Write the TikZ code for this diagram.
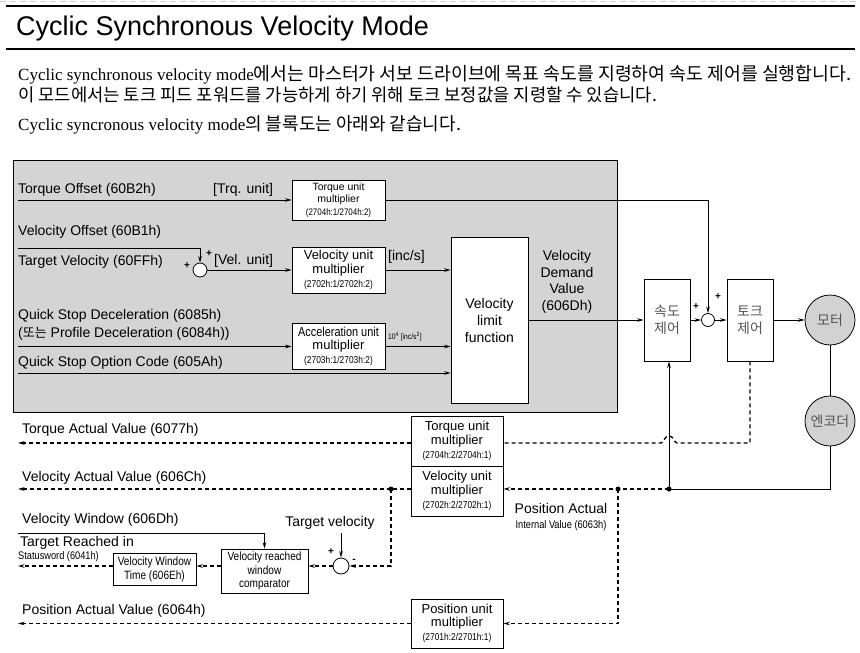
\documentclass[tikz,border=0pt]{standalone}
\usepackage{fontspec}
\setmainfont{Liberation Serif}
\newfontfamily\kr{Noto Sans CJK KR}
\newfontfamily\ar{Liberation Sans}
\newfontfamily\arn[FakeStretch=0.84]{Liberation Sans}
\usetikzlibrary{arrows.meta,calc}
\newcommand\fsz[2]{\fontsize{#1}{#2}\selectfont}
\definecolor{gbg}{HTML}{D4D4D4}
\definecolor{mfill}{HTML}{D2D2D2}
\definecolor{krgray}{HTML}{555555}
\tikzset{
 box/.style={draw, line width=0.8pt, fill=white, inner sep=0pt, align=center},
 lbl/.style={inner sep=0pt, anchor=west, font=\ar\fsz{14}{16}},
 arr/.style={-{Stealth[length=6.5pt,width=3.6pt]}},
 dsh/.style={line width=1.3pt, dash pattern=on 4pt off 3pt},
 ln/.style={line width=0.8pt},
 sumc/.style={draw, circle, fill=white, minimum size=14pt, inner sep=0pt, line width=0.8pt},
 jdot/.style={circle, fill=black, minimum size=5pt, inner sep=0pt},
 sgn/.style={inner sep=0pt, font=\ar\bfseries\fsz{10}{11}},
 bigc/.style={draw, circle, fill=mfill, minimum size=50pt, inner sep=0pt, line width=0.8pt, font=\kr\fsz{14}{16}, text=krgray},
 krbox/.style={box, minimum width=46pt, minimum height=82pt, font=\kr\fsz{14}{17}, text=krgray},
}
\begin{document}
\begin{tikzpicture}[x=1pt,y=-1pt]
\useasboundingbox (0,0) rectangle (860,653);
% header
\draw[gray!40, line width=0.6pt, dash pattern=on 6pt off 4pt] (0,1.5) -- (860,1.5);
\coordinate (h1a) at (6,6); \coordinate (h1b) at (855,6);
\coordinate (h2a) at (6,49); \coordinate (h2b) at (855,49);
\draw[line width=2.5pt] (h1a) -- (h1b);
\draw[line width=2.5pt] (h2a) -- (h2b);
\node[anchor=base west, inner sep=0] (title) at (16,35) {\ar\fsz{27}{32}Cyclic Synchronous Velocity Mode};
\node[anchor=base west, inner sep=0] (p1) at (18,80) {\fsz{17}{20}Cyclic synchronous velocity mode{\kr\fsz{18.3}{20}에서는 마스터가 서보 드라이브에 목표 속도를 지령하여 속도 제어를 실행합니다.}};
\node[anchor=base west, inner sep=0] (p2) at (18,101) {\kr\fsz{17.7}{20}이 모드에서는 토크 피드 포워드를 가능하게 하기 위해 토크 보정값을 지령할 수 있습니다.};
\node[anchor=base west, inner sep=0] (p3) at (18,130) {\fsz{17}{20}Cyclic syncronous velocity mode{\kr\fsz{18}{20}의 블록도는 아래와 같습니다.}};

% gray area
\node[draw, fill=gbg, line width=0.8pt, minimum width=604pt, minimum height=252pt, inner sep=0] (gb) at (315,286) {};

% torque offset
\node[lbl] (tol) at (18,190) {Torque Offset (60B2h)};
\node[lbl] (tu) at (213,190) {[Trq. unit]};
\node[box, minimum width=93pt, minimum height=40pt] (tum1) at (338.5,200) {\ar\fsz{10.5}{12}Torque unit\\[0.5pt]\ar\fsz{10.5}{12}multiplier\\[0.5pt]\arn\fsz{9.5}{11}(2704h:1/2704h:2)};
\coordinate (tos) at (18,200);
\draw[ln,arr] (tos) -- (tum1.west);

% velocity offset / target velocity
\node[lbl] (vol) at (18,232) {Velocity Offset (60B1h)};
\node[lbl] (tvl) at (18,262) {Target Velocity (60FFh)};
\node[sumc] (sum1) at (200,270) {};
\coordinate (vos) at (18,248);
\coordinate (voc) at (200,248);
\draw[ln,arr] (vos) -- (voc) -- (sum1.north);
\node[sgn] (s1a) at (187,266) {+};
\node[sgn] (s1b) at (209,254) {+};
\node[lbl] (vu) at (214,261) {[Vel. unit]};
\node[box, minimum width=93pt, minimum height=46pt] (vum1) at (338.5,270) {\ar\fsz{13}{14.5}Velocity unit\\[1pt]\ar\fsz{13}{14.5}multiplier\\[1.5pt]\arn\fsz{10}{12}(2702h:1/2702h:2)};
\draw[ln,arr] (sum1.east) -- (vum1.west);
\node[lbl] (incs) at (388,257) {[inc/s]};

% velocity limit function
\node[box, minimum width=77pt, minimum height=166pt, font=\ar\fsz{14}{17}] (vlf) at (489.5,320) {Velocity\\limit\\function};
\draw[ln,arr] (vum1.east) -- (vum1.east -| vlf.west);

% deceleration
\node[lbl] (qsd1) at (18,316) {Quick Stop Deceleration (6085h)};
\node[lbl] (qsd2) at (18,334) {({\kr\fsz{13}{16}또는} Profile Deceleration (6084h))};
\node[box, minimum width=93pt, minimum height=46pt] (aum) at (338.5,346.5) {\arn\fsz{13}{14.5}Acceleration unit\\[1pt]\ar\fsz{13}{14.5}multiplier\\[1.5pt]\arn\fsz{10}{12}(2703h:1/2703h:2)};
\coordinate (qsd) at (18,346.5);
\draw[ln,arr] (qsd) -- (aum.west);
\draw[ln,arr] (aum.east) -- (aum.east -| vlf.west);
\node[inner sep=0, anchor=west] (accu) at (388,337) {\arn\fsz{8}{9}10\textsuperscript{4} [inc/s\textsuperscript{2}]};
\node[lbl] (qsoc) at (18,363) {Quick Stop Option Code (605Ah)};
\coordinate (qso) at (18,373);
\draw[ln,arr] (qso) -- (qso -| vlf.west);

% demand value
\node[align=center, inner sep=0, font=\ar\fsz{14}{16.5}] (vdv) at (567,282) {Velocity\\Demand\\Value\\(606Dh)};

% control loop
\node[krbox] (sc) at (667,320) {속도\\제어};
\node[sumc, minimum size=13pt] (sum2) at (708,320) {};
\node[krbox] (tc) at (750,320) {토크\\제어};
\node[bigc] (motor) at (830,320) {모터};
\node[bigc] (enc) at (830,421) {엔코더};
\draw[ln,arr] (vlf.east) -- (sc.west);
\draw[ln,arr] (sc.east) -- (sum2.west);
\draw[ln,arr] (sum2.east) -- (tc.west);
\draw[ln,arr] (tc.east) -- (motor.west);
\draw[ln] (motor.south) -- (enc.north);
\node[sgn] (s2a) at (696,307) {+};
\node[sgn] (s2b) at (718,297) {+};
\coordinate (tk) at (708,200);
\draw[ln,arr] (tum1.east) -- (tk) -- (sum2.north);

% feedback
\node[jdot] (j1) at (669,489) {};
\node[jdot] (j2) at (618,489) {};
\node[jdot] (j3) at (391,489) {};
\coordinate (eb) at (830,489);
\draw[ln] (enc.south) -- (eb) -- (j1.center);
\draw[ln,arr] (j1.center) -- (j1 |- sc.south);

\node[box, minimum width=92pt, minimum height=50pt] (tum2) at (457,441) {\ar\fsz{13}{14.5}Torque unit\\[1pt]\ar\fsz{13}{14.5}multiplier\\[1.5pt]\arn\fsz{10}{12}(2704h:2/2704h:1)};
\node[box, minimum width=92pt, minimum height=50pt] (vum2) at (457,491) {\ar\fsz{13}{14.5}Velocity unit\\[1pt]\ar\fsz{13}{14.5}multiplier\\[1.5pt]\arn\fsz{10}{12}(2702h:2/2702h:1)};
\node[box, minimum width=92pt, minimum height=49pt] (pum) at (457,623.5) {\ar\fsz{13}{14.5}Position unit\\[1pt]\ar\fsz{13}{14.5}multiplier\\[1.5pt]\arn\fsz{10}{12}(2701h:2/2701h:1)};

\draw[dsh,arr] (j1.center) -- (j1 -| vum2.east);
\coordinate (pc) at (618,623.5);
\draw[dsh,arr] (j2.center) -- (pc) -- (pum.east);

\coordinate (td1) at (750,443);
\draw[dsh] (tc.south) -- (td1) -- (677,443) .. controls (674,443) and (674,436) .. (669,436) .. controls (664,436) and (664,443) .. (661,443) -- (tum2.east |- td1);

\node[inner sep=0, font=\ar\fsz{14}{16}] (pal) at (561,508) {Position Actual};
\node[inner sep=0, font=\arn\fsz{11}{13}] (ival) at (561,526) {Internal Value (6063h)};

% actual values
\node[lbl] (tav) at (22,430) {Torque Actual Value (6077h)};
\coordinate (tave) at (18,443);
\draw[dsh,arr] (tum2.west |- tave) -- (tave);
\node[lbl] (vav) at (22,478) {Velocity Actual Value (606Ch)};
\coordinate (vave) at (18,489);
\draw[dsh] (vum2.west |- j3) -- (j3.center);
\draw[dsh,arr] (j3.center) -- (vave);
\node[sgn] (s3a) at (331,552) {+};
\node[sgn] (s3b) at (354,561) {-};
\node[sumc, minimum size=16pt] (sum3) at (341,566) {};
\coordinate (j3d) at (391,566);
\draw[dsh,arr] (j3.center) -- (j3d) -- (sum3.east);
\node[inner sep=0, font=\ar\fsz{14}{16}] (tvel) at (330,523) {Target velocity};
\coordinate (tvt) at (341,533);
\draw[ln,arr] (tvt) -- (sum3.north);

\node[box, minimum width=87pt, minimum height=44pt, font=\arn\fsz{12}{13.5}] (comp) at (264.5,571) {Velocity reached\\window\\comparator};
\node[box, minimum width=83pt, minimum height=32pt, font=\arn\fsz{12}{14}] (vwt) at (154.5,569) {Velocity Window\\Time (606Eh)};
\draw[dsh,arr] (sum3.west) -- (sum3.west -| comp.east);
\draw[dsh,arr] (comp.west |- sum3) -- (vwt.east |- sum3);
\coordinate (trs) at (18,566);
\draw[dsh,arr] (vwt.west |- sum3) -- (trs);
\node[lbl] (vwl) at (22,520) {Velocity Window (606Dh)};
\coordinate (vws) at (18,533);
\draw[ln,arr] (vws) -- (vws -| comp.north) -- (comp.north);
\node[lbl] (trl) at (20,543) {Target Reached in};
\node[inner sep=0, anchor=west, font=\arn\fsz{11}{13}] (swl) at (18,557) {Statusword (6041h)};

\node[lbl] (pav) at (22,611) {Position Actual Value (6064h)};
\coordinate (pave) at (18,623.5);
\draw[dsh,arr] (pum.west) -- (pave);
\end{tikzpicture}
\end{document}
